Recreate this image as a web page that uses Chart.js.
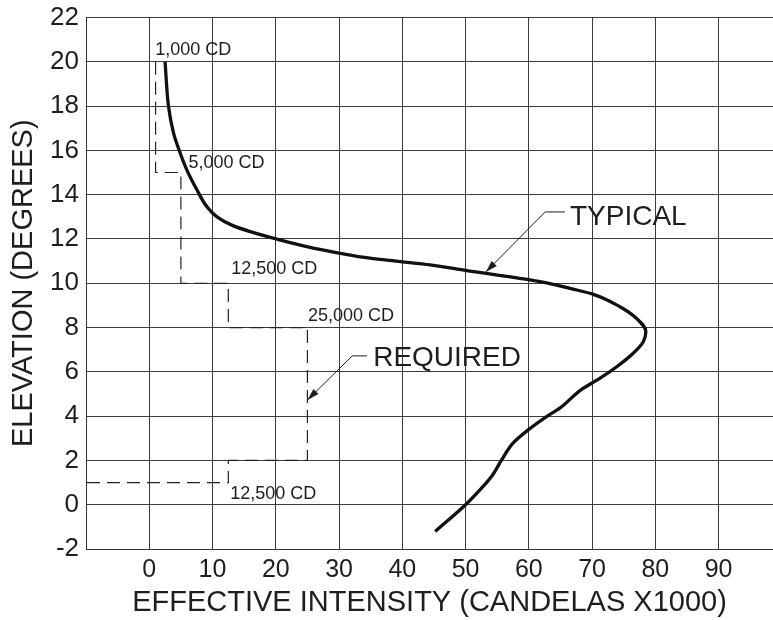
<!DOCTYPE html>
<html>
<head>
<meta charset="utf-8">
<script src="https://cdn.jsdelivr.net/npm/chart.js@4"></script>
<style>
  html, body { margin: 0; padding: 0; background: #fff; }
  #wrap { width: 773px; height: 620px; position: relative; }
</style>
</head>
<body>
<div id="wrap"><canvas id="chart"></canvas></div>
<script>
/* Elevation vs effective intensity — typical curve and required step profile */

const FONT = "'Liberation Sans', Arial, Helvetica, sans-serif";
const INK = "#1e1e1e";

const xTicks = [-10, 0, 10, 20, 30, 40, 50, 60, 70, 80, 90];
const yTicks = [-2, 0, 2, 4, 6, 8, 10, 12, 14, 16, 18, 20, 22];

// typical curve, top to bottom
const typicalX = [2.5, 3.05, 3.85, 4.9, 5.95, 7.55, 9.1, 10.7, 13.3, 16.0, 20.2, 24.9, 30.2, 34.9, 39.7,
  44.4, 50.2, 60.2, 64.4, 66.5, 70.2, 74.4, 77.0, 78.5, 78.1, 76.5, 73.9, 71.2, 68.3, 64.9, 62.8,
  59.9, 57.5, 55.7, 54.1, 51.8, 50.0, 45.2];
const typicalY = [20.0, 17.97, 16.77, 15.87, 15.11, 14.21, 13.46, 13.0, 12.59, 12.33, 11.99, 11.65, 11.35, 11.13, 10.98,
  10.83, 10.57, 10.15, 9.92, 9.77, 9.5, 8.94, 8.42, 7.82, 7.36, 6.84, 6.23, 5.7, 5.2, 4.36, 3.98,
  3.38, 2.78, 2.02, 1.27, 0.52, 0.0, -1.21];

// required minimum (step profile)
const requiredX = [1, 1, 5, 5, 12.5, 12.5, 25, 25, 12.5, 12.5, -10];
const requiredY = [20, 15, 15, 10, 10, 8, 8, 2, 2, 1, 1];

// small intensity labels
const labelText = ["1,000 CD", "5,000 CD", "12,500 CD", "25,000 CD", "12,500 CD"];
const labelX = [0.95, 6.2, 12.95, 25.1, 12.8];
const labelY = [20.53, 15.44, 10.63, 8.52, 0.47];

// callouts with leader + arrow (start, elbow, tip)
const calloutText = ["TYPICAL", "REQUIRED"];
const calloutX = [66.5, 35.4];
const calloutY = [13.0, 6.6];
const leaderX = [[65.7, 62.6, 53.2], [34.4, 32.1, 25.0]];
const leaderY = [[13.22, 13.22, 10.51], [6.72, 6.72, 4.73]];

const annotations = {
    id: "annotations",
    afterDatasetsDraw(chart) {
        const { ctx, scales: { x, y } } = chart;
        ctx.save();
        ctx.fillStyle = INK;
        ctx.textAlign = "left";
        ctx.textBaseline = "middle";

        ctx.font = `18px ${FONT}`;
        labelText.forEach((t, i) => {
            ctx.fillText(t, x.getPixelForValue(labelX[i]), y.getPixelForValue(labelY[i]));
        });

        ctx.font = `28px ${FONT}`;
        calloutText.forEach((t, i) => {
            ctx.fillText(t, x.getPixelForValue(calloutX[i]), y.getPixelForValue(calloutY[i]));

            const px = leaderX[i].map((v) => x.getPixelForValue(v));
            const py = leaderY[i].map((v) => y.getPixelForValue(v));
            ctx.strokeStyle = INK;
            ctx.lineWidth = 1;
            ctx.beginPath();
            ctx.moveTo(px[0], py[0]);
            ctx.lineTo(px[1], py[1]);
            ctx.lineTo(px[2], py[2]);
            ctx.stroke();

            // arrow head
            const a = Math.atan2(py[2] - py[1], px[2] - px[1]);
            const len = 12, half = 3.6;
            ctx.beginPath();
            ctx.moveTo(px[2], py[2]);
            ctx.lineTo(px[2] - len * Math.cos(a) + half * Math.sin(a), py[2] - len * Math.sin(a) - half * Math.cos(a));
            ctx.lineTo(px[2] - len * Math.cos(a) - half * Math.sin(a), py[2] - len * Math.sin(a) + half * Math.cos(a));
            ctx.closePath();
            ctx.fill();
        });
        ctx.restore();
    },
};

new Chart(document.getElementById("chart"), {
    type: "scatter",
    data: {
        datasets: [
            {
                label: "TYPICAL",
                data: typicalX.map((v, i) => ({ x: v, y: typicalY[i] })),
                showLine: true,
                indexAxis: "y",
                cubicInterpolationMode: "monotone",
                borderColor: "#111",
                borderWidth: 3.3,
                pointRadius: 0,
                fill: false,
            },
            {
                label: "REQUIRED",
                data: requiredX.map((v, i) => ({ x: v, y: requiredY[i] })),
                showLine: true,
                borderColor: "#222",
                borderWidth: 1.2,
                borderDash: [13, 7],
                pointRadius: 0,
                tension: 0,
                fill: false,
            },
        ],
    },
    options: {
        responsive: true,
        maintainAspectRatio: false,
        animation: false,
        indexAxis: "y",
        layout: { padding: { top: 17.5, right: 0, bottom: 0, left: 0 } },
        plugins: { legend: { display: false }, tooltip: { enabled: false } },
        scales: {
            x: {
                type: "linear",
                min: -10,
                max: 98.6,
                afterBuildTicks: (s) => { s.ticks = xTicks.map((v) => ({ value: v })); },
                afterFit: (s) => { s.height = 71; s.paddingLeft = 0; s.paddingRight = 0; },
                grid: { color: "#3c3c3c", lineWidth: 1, drawTicks: false },
                border: { color: "#333" },
                ticks: {
                    padding: 6,
                    color: INK,
                    autoSkip: false,
                    maxRotation: 0,
                    font: { size: 25, family: FONT },
                    callback: (v) => (v < 0 ? "" : v),
                },
                title: {
                    display: true,
                    text: "EFFECTIVE INTENSITY (CANDELAS X1000)",
                    color: INK,
                    font: { size: 29, family: FONT },
                    padding: 0,
                },
            },
            y: {
                type: "linear",
                min: -2,
                max: 22,
                afterBuildTicks: (s) => { s.ticks = yTicks.map((v) => ({ value: v })); },
                afterFit: (s) => { s.width = 86; s.paddingTop = 0; s.paddingBottom = 0; },
                grid: { color: "#3c3c3c", lineWidth: 1, drawTicks: false },
                border: { color: "#333" },
                ticks: {
                    padding: 7,
                    color: INK,
                    autoSkip: false,
                    font: { size: 26, family: FONT },
                },
                title: {
                    display: true,
                    text: "ELEVATION (DEGREES)",
                    color: INK,
                    font: { size: 29, family: FONT },
                    padding: { top: 7, bottom: 0 },
                },
            },
        },
    },
    plugins: [annotations],
});
</script>
</body>
</html>
